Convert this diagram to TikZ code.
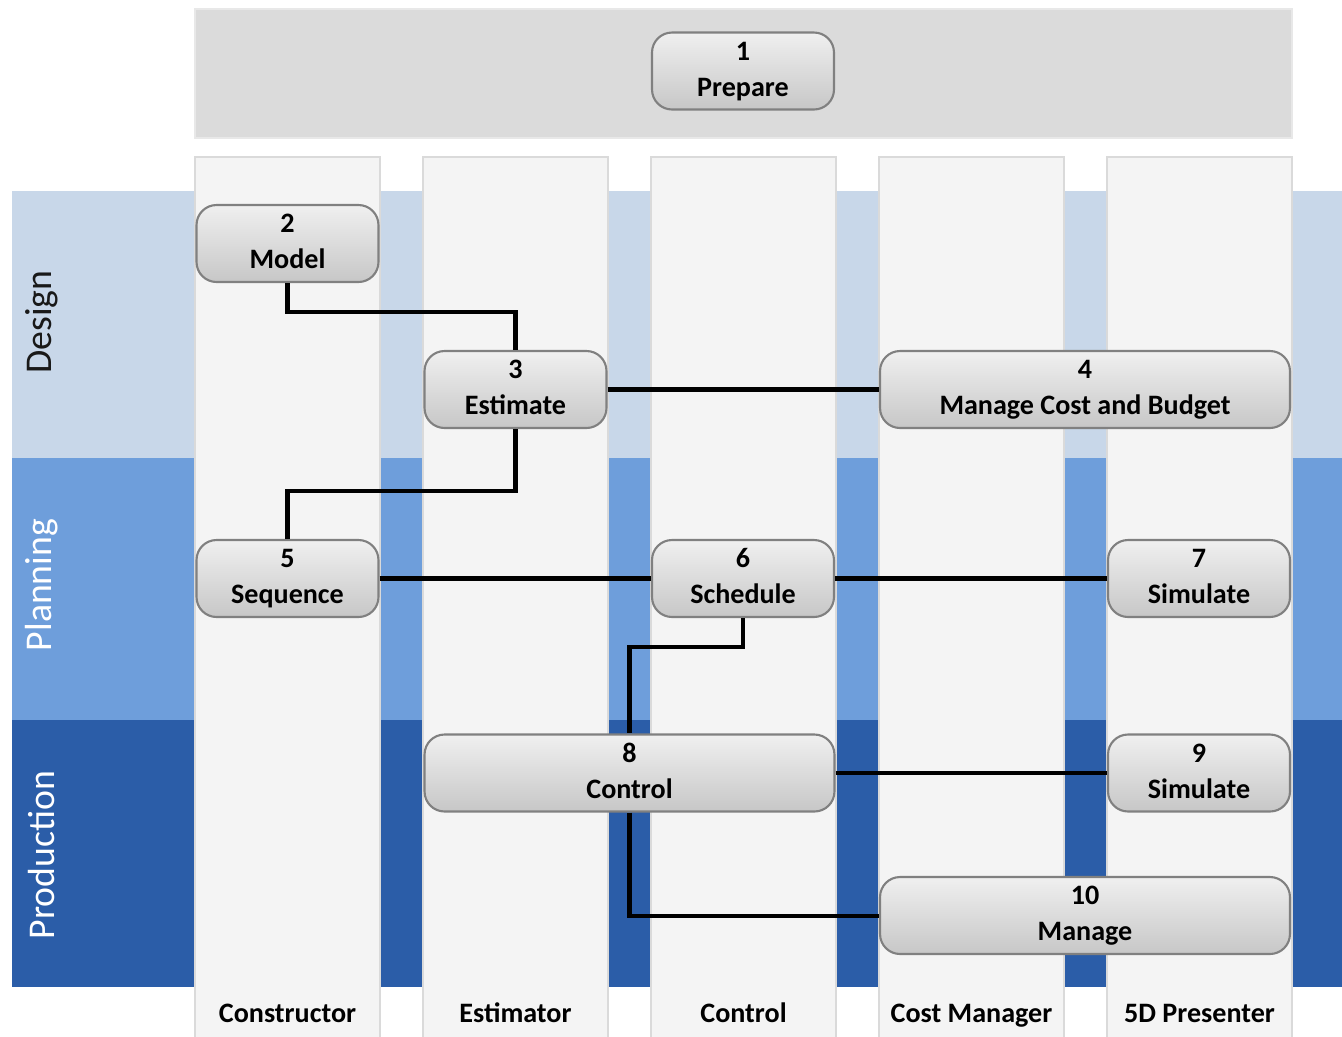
\documentclass[tikz,border=0pt]{standalone}
\usepackage{fontspec}
\setmainfont{Carlito}
\definecolor{designblue}{HTML}{C8D7E9}
\definecolor{planblue}{HTML}{6E9EDB}
\definecolor{prodblue}{HTML}{2B5DA8}
\definecolor{lanegray}{HTML}{F4F4F4}
\definecolor{laneline}{HTML}{DADADA}
\newcommand{\tasktext}[2]{\strut#1\\\strut#2}

\begin{document}
\begin{tikzpicture}
  [x=0.02cm, y=-0.02cm,
  task/.style={draw=black!50, line width=1.2pt, rounded corners=0.4cm,
    top color=white!94!black, bottom color=white!78!black,
    minimum width=3.64cm, minimum height=1.54cm, inner ysep=1pt, align=center,
    font=\fontsize{16}{20.5}\selectfont\bfseries},
  widetask/.style={task, minimum width=8.2cm},
  lane/.style={draw=laneline, line width=1.6pt, fill=lanegray},
  lanelabel/.style={anchor=base, font=\fontsize{16}{20}\selectfont\bfseries},
  rowlabel/.style={rotate=90, font=\fontsize{21.5}{24}\selectfont},
  link/.style={line width=2.3pt}]
  \useasboundingbox (0,0) rectangle (1342,1036);

  % rows
  \fill[designblue] (12,191) rectangle (1342,458);
  \fill[planblue] (12,458) rectangle (1342,720);
  \fill[prodblue] (12,720) rectangle (1342,987);
  \node[rowlabel, text=black!90] (design) at (42,322) {Design};
  \node[rowlabel, text=white] (planning) at (42,585) {Planning};
  \node[rowlabel, text=white] (production) at (42,855) {Production};

  % lanes
  \foreach \x/\name in {195/Constructor, 423/Estimator, 651/Control,
                        879/Cost Manager, 1107/5D Presenter} {
    \draw[lane] (\x,1040) -- (\x,157) -- (\x+185,157) -- (\x+185,1040);
    \node[lanelabel] at (\x+92.5,1022) {\name};
  }

  \fill[white!86!black] (195,9) rectangle (1292,138);
  \draw[white!91!black, line width=1.6pt] (195,9) rectangle (1292,138);

  % tasks
  \node[task] (n1) at (743,71) {\tasktext{1}{Prepare}};
  \node[task] (n2) at (287.5,243.5) {\tasktext{2}{Model}};
  \node[task] (n3) at (515.5,389.5) {\tasktext{3}{Estimate}};
  \node[widetask] (n4) at (1085,389.5) {\tasktext{4}{Manage Cost and Budget}};
  \node[task] (n5) at (287.5,578.5) {\tasktext{5}{Sequence}};
  \node[task] (n6) at (743,578.5) {\tasktext{6}{Schedule}};
  \node[task] (n7) at (1199,578.5) {\tasktext{7}{Simulate}};
  \node[widetask] (n8) at (629.5,773) {\tasktext{8}{Control}};
  \node[task] (n9) at (1199,773) {\tasktext{9}{Simulate}};
  \node[widetask] (n10) at (1085,915.5) {\tasktext{10}{Manage}};

  % links
  \draw[link] (n2.south) -- ++(0,29) -| (n3.north);
  \draw[link] (n3.east) -- (n4.west);
  \draw[link] (n3.south) -- ++(0,62) -| (n5.north);
  \draw[link] (n5.east) -- (n6.west);
  \draw[link] (n6.east) -- (n7.west);
  \draw[link] (n6.south) -- ++(0,29) -| (n8.north);
  \draw[link] (n8.east) -- (n9.west);
  \draw[link] (n8.south) |- (n10.west);
\end{tikzpicture}
\end{document}
